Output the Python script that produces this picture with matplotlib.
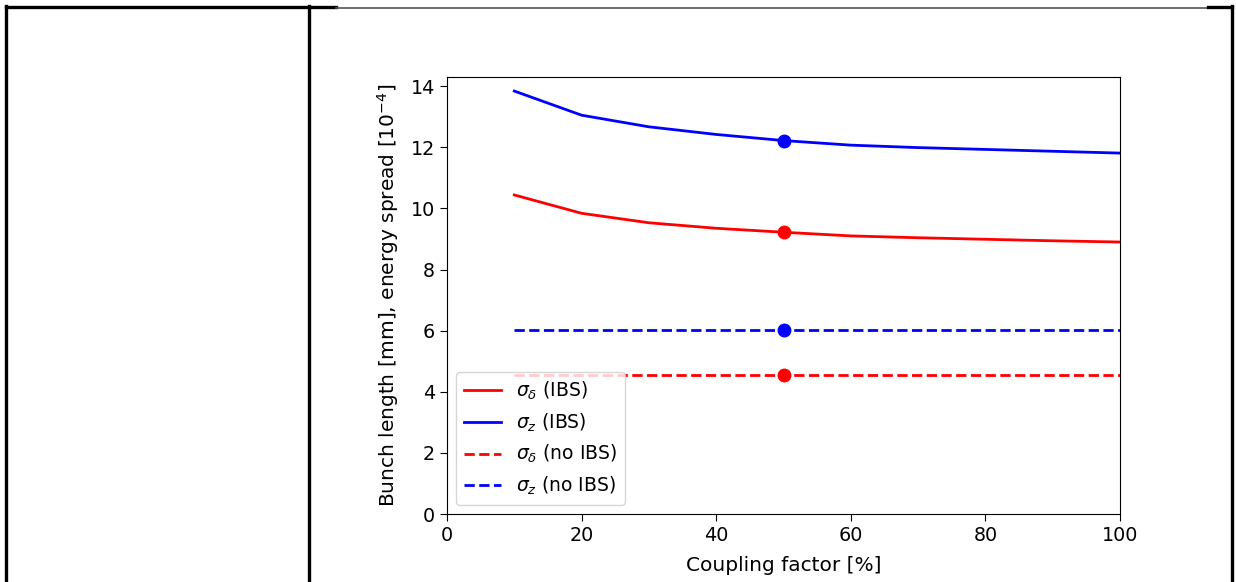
import matplotlib
matplotlib.use("Agg")
import matplotlib.pyplot as plt
from matplotlib.lines import Line2D

coupling = [10, 20, 30, 40, 50, 60, 70, 80, 90, 100]
sigma_z_ibs = [13.84, 13.05, 12.67, 12.42, 12.22, 12.07, 11.99, 11.93, 11.87, 11.81]
sigma_d_ibs = [10.44, 9.84, 9.53, 9.35, 9.22, 9.10, 9.04, 8.99, 8.94, 8.90]
sigma_z_noibs = 6.03
sigma_d_noibs = 4.55
marker_x = 50

W, H = 1236, 582
fig = plt.figure(figsize=(W / 100, H / 100), dpi=100)
fig.patch.set_facecolor("white")

# document table borders
def px_line(x0, y0, x1, y1, color="black", lw=2.4):
    fig.add_artist(Line2D([x0 / W, x1 / W], [1 - y0 / H, 1 - y1 / H],
                          transform=fig.transFigure, color=color, lw=lw))

px_line(6, 7, 336, 7)
px_line(336, 7.5, 1208, 7.5, color="#555555", lw=1.2)
px_line(1208, 7, 1232, 7)
px_line(6, 6, 6, 582)
px_line(309, 6, 309, 582)
px_line(1232, 6, 1232, 582)

ax = fig.add_axes([447 / W, 1 - 514 / H, (1120 - 447) / W, (514 - 77) / H])

fs_tick = 13.8
fs_label = 14.5
fs_leg = 13.5
ax.plot(coupling, sigma_d_ibs, color="red", lw=2, label=r"$\sigma_\delta$ (IBS)")
ax.plot(coupling, sigma_z_ibs, color="blue", lw=2, label=r"$\sigma_z$ (IBS)")
ax.plot([coupling[0], coupling[-1]], [sigma_d_noibs] * 2, color="red", lw=2, ls="--",
        label=r"$\sigma_\delta$ (no IBS)")
ax.plot([coupling[0], coupling[-1]], [sigma_z_noibs] * 2, color="blue", lw=2, ls="--",
        label=r"$\sigma_z$ (no IBS)")

idx = coupling.index(marker_x)
ax.plot([marker_x], [sigma_z_ibs[idx]], "o", color="blue", ms=9)
ax.plot([marker_x], [sigma_d_ibs[idx]], "o", color="red", ms=9)
ax.plot([marker_x], [sigma_z_noibs], "o", color="blue", ms=9)
ax.plot([marker_x], [sigma_d_noibs], "o", color="red", ms=9)

ax.set_xlim(0, 100)
ax.set_ylim(0, 14.3)
ax.set_xticks([0, 20, 40, 60, 80, 100])
ax.set_yticks([0, 2, 4, 6, 8, 10, 12, 14])
ax.tick_params(labelsize=fs_tick, length=5)
ax.set_xlabel("Coupling factor [%]", fontsize=fs_label, labelpad=8)
ax.set_ylabel(r"Bunch length [mm], energy spread [$10^{-4}$]", fontsize=fs_label, labelpad=7)
ax.legend(loc="lower left", fontsize=fs_leg, handlelength=2.0)

fig.savefig("out.png", dpi=100)
